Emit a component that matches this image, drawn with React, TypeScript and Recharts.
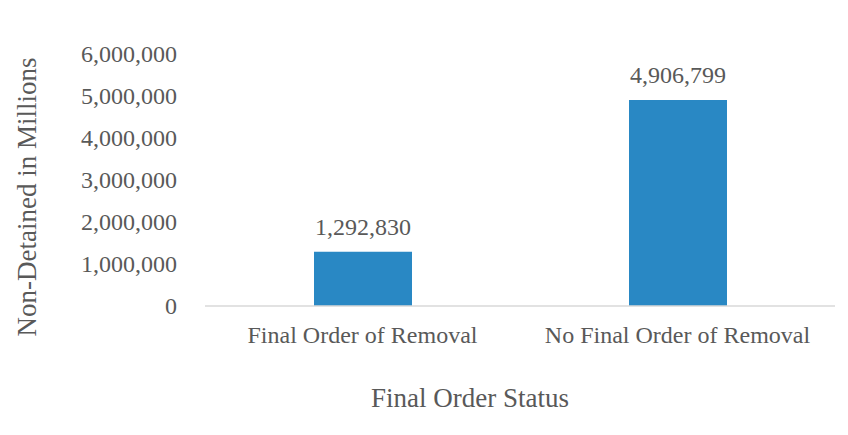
import { Bar, BarChart, LabelList, XAxis, YAxis } from "recharts";

const FONT = '"Liberation Serif", "Times New Roman", serif';
const TEXT = "#595959";
const BASE = "#d9d9d9";
const BLUE = "#2988c4";

const categories = ["Final Order of Removal", "No Final Order of Removal"];
const counts = [1292830, 4906799];
const yTicks = [0, 1000000, 2000000, 3000000, 4000000, 5000000, 6000000];

const data = categories.map((status, i) => ({ status, count: counts[i] }));

const fmt = (v: number) => v.toLocaleString("en-US");

function YTick({ y, payload }: any) {
  return (
    <text x={177} y={y} textAnchor="end" dominantBaseline="central" fontSize={24} fill={TEXT} fontFamily={FONT}>
      {fmt(Number(payload.value))}
    </text>
  );
}

function XTick({ x, payload }: any) {
  return (
    <text x={x} y={335} textAnchor="middle" dominantBaseline="central" fontSize={24} fill={TEXT} fontFamily={FONT}>
      {payload.value}
    </text>
  );
}

export default function App() {
  return (
    <div style={{ position: "absolute", left: 0, top: 0, width: 848, height: 435, background: "#fff" }}>
      <BarChart
        width={848}
        height={435}
        data={data}
        margin={{ top: 54, right: 13, left: 0, bottom: 0 }}
        barSize={98}
      >
        <XAxis
          dataKey="status"
          height={129}
          axisLine={{ stroke: BASE, strokeWidth: 1.5 }}
          tickLine={false}
          tick={<XTick />}
          interval={0}
        />
        <YAxis
          width={205}
          domain={[0, 6000000]}
          ticks={yTicks}
          axisLine={false}
          tickLine={false}
          tick={<YTick />}
          interval={0}
        />
        <Bar dataKey="count" fill={BLUE} isAnimationActive={false}>
          <LabelList
            dataKey="count"
            position="top"
            offset={17}
            formatter={(v: any) => fmt(Number(v))}
            style={{ fontSize: 24, fill: TEXT, fontFamily: FONT }}
          />
        </Bar>
      </BarChart>
      <svg width={848} height={435} style={{ position: "absolute", left: 0, top: 0, pointerEvents: "none" }}>
        <text x={470} y={398} textAnchor="middle" dominantBaseline="central" fontSize={27} fill={TEXT} fontFamily={FONT}>
          Final Order Status
        </text>
        <text
          x={27}
          y={197}
          textAnchor="middle"
          dominantBaseline="central"
          fontSize={27}
          fill={TEXT}
          fontFamily={FONT}
          transform="rotate(-90 27 197)"
        >
          Non-Detained in Millions
        </text>
      </svg>
    </div>
  );
}
